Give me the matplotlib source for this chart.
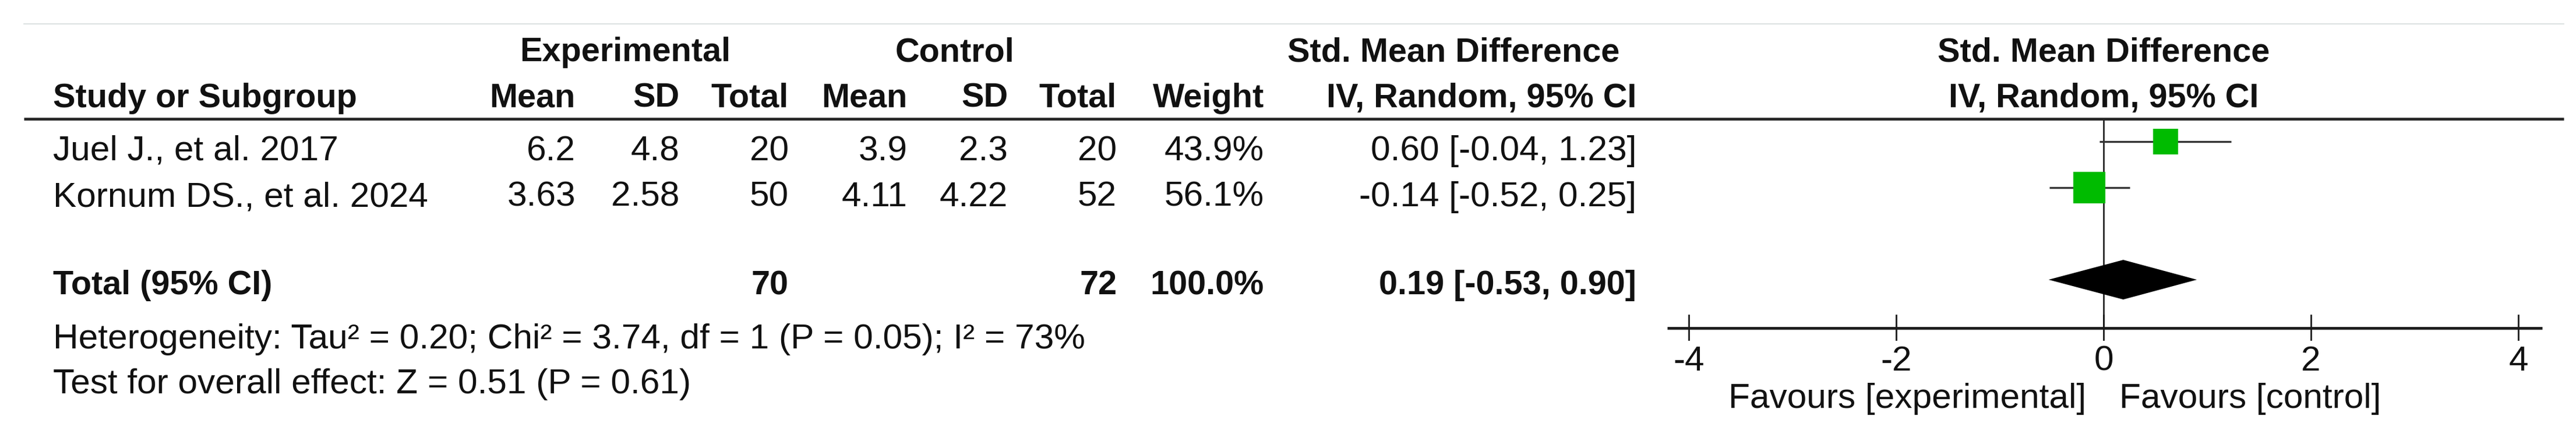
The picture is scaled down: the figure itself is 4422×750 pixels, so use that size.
import matplotlib
matplotlib.use("Agg")
import matplotlib.pyplot as plt
from matplotlib.patches import Rectangle, Polygon

plt.rcParams['font.family'] = ['Liberation Sans', 'DejaVu Sans']

# ---------------- data ----------------
studies = ["Juel J., et al. 2017", "Kornum DS., et al. 2024"]
exp_mean = [6.2, 3.63]
exp_sd = [4.8, 2.58]
exp_n = [20, 50]
ctrl_mean = [3.9, 4.11]
ctrl_sd = [2.3, 4.22]
ctrl_n = [20, 52]
weights = [43.9, 56.1]
smd = [0.60, -0.14]
ci_lo = [-0.04, -0.52]
ci_hi = [1.23, 0.25]

total_exp = 70
total_ctrl = 72
total_weight = 100.0
pooled = 0.19
pooled_lo = -0.53
pooled_hi = 0.90

heterogeneity = "Heterogeneity: Tau\u00b2 = 0.20; Chi\u00b2 = 3.74, df = 1 (P = 0.05); I\u00b2 = 73%"
overall = "Test for overall effect: Z = 0.51 (P = 0.61)"
xticks = [-4, -2, 0, 2, 4]
xtick_labels = ["-4", "-2", "0", "2", "4"]

# ---------------- layout (pixels) ----------------
W, H = 4422, 750
FS = 43.5      # regular text
FSB = 41.5     # bold text
INK = "#111111"
LEFT = 41
RIGHT = 4401

y_group = 105
y_head = 184
y_rows = [275, 354]
y_total = 505
y_het = 598
y_test = 675

col_right = {"em": 988, "esd": 1166, "en": 1354, "cm": 1558, "csd": 1730,
             "cn": 1917, "w": 2170, "ci": 2809}

ZERO_PX = 3611
PX_PER_UNIT = 178
F_LEFT = 2820

fig = plt.figure(figsize=(W / 100, H / 100), dpi=100)
ax = fig.add_axes([0, 0, 1, 1])
ax.set_xlim(0, W)
ax.set_ylim(H, 0)
ax.axis("off")

# rules
ax.plot([LEFT, RIGHT], [41, 41], color="#d4dcdc", lw=1.2)
ax.plot([LEFT, RIGHT], [204, 204], color="#262626", lw=3.4, solid_capstyle="butt")

# group headers
ax.text(1073, y_group, "Experimental", fontsize=FSB, fontweight="bold", ha="center", va="baseline", color=INK)
ax.text(1639, y_group, "Control", fontsize=FSB, fontweight="bold", ha="center", va="baseline", color=INK)
ax.text(2495, y_group, "Std. Mean Difference", fontsize=FSB, fontweight="bold", ha="center", va="baseline", color=INK)

# column headers
ax.text(91, y_head, "Study or Subgroup", fontsize=FSB, fontweight="bold", ha="left", va="baseline", color=INK)
heads = [("em", "Mean"), ("esd", "SD"), ("en", "Total"), ("cm", "Mean"), ("csd", "SD"),
         ("cn", "Total"), ("w", "Weight"), ("ci", "IV, Random, 95% CI")]
for key, label in heads:
    ax.text(col_right[key], y_head, label, fontsize=FSB, fontweight="bold", ha="right", va="baseline", color=INK)

# study rows
for i, name in enumerate(studies):
    y = y_rows[i]
    ax.text(91, y, name, fontsize=FS, ha="left", va="baseline", color=INK)
    vals = [("em", str(exp_mean[i])), ("esd", str(exp_sd[i])), ("en", str(exp_n[i])),
            ("cm", str(ctrl_mean[i])), ("csd", str(ctrl_sd[i])), ("cn", str(ctrl_n[i])),
            ("w", f"{weights[i]:.1f}%"), ("ci", f"{smd[i]:.2f} [{ci_lo[i]:.2f}, {ci_hi[i]:.2f}]")]
    for key, txt in vals:
        ax.text(col_right[key], y, txt, fontsize=FS, ha="right", va="baseline", color=INK)

# total row
ax.text(91, y_total, "Total (95% CI)", fontsize=FSB, fontweight="bold", ha="left", va="baseline", color=INK)
for key, txt in [("en", str(total_exp)), ("cn", str(total_ctrl)), ("w", f"{total_weight:.1f}%"),
                 ("ci", f"{pooled:.2f} [{pooled_lo:.2f}, {pooled_hi:.2f}]")]:
    ax.text(col_right[key], y_total, txt, fontsize=FSB, fontweight="bold", ha="right", va="baseline", color=INK)

ax.text(91, y_het, heterogeneity, fontsize=FS, ha="left", va="baseline", color=INK)
ax.text(91, y_test, overall, fontsize=FS, ha="left", va="baseline", color=INK)

# ---------------- forest panel ----------------
fax = fig.add_axes([F_LEFT / W, 0, (W - F_LEFT) / W, 1])
fax.set_xlim((F_LEFT - ZERO_PX) / PX_PER_UNIT, (W - ZERO_PX) / PX_PER_UNIT)
fax.set_ylim(H, 0)
fax.axis("off")
fax.patch.set_alpha(0)

fax.text(0, y_group, "Std. Mean Difference", fontsize=FSB, fontweight="bold", ha="center", va="baseline", color=INK)
fax.text(0, y_head, "IV, Random, 95% CI", fontsize=FSB, fontweight="bold", ha="center", va="baseline", color=INK)

y_axis = 563
fax.plot([0, 0], [206, y_axis], color="#262626", lw=2.0)

for i in range(len(studies)):
    y = y_rows[i] - 32
    fax.plot([ci_lo[i], ci_hi[i]], [y, y], color="#333333", lw=2.4, solid_capstyle="butt")
    side = weights[i] * 0.98
    fax.add_patch(Rectangle((smd[i] - side / 2 / PX_PER_UNIT, y - side / 2), side / PX_PER_UNIT, side,
                            facecolor="#00bb00", edgecolor="none", zorder=3))

yd = y_total - 25
fax.add_patch(Polygon([(pooled_lo, yd), (pooled, yd - 34), (pooled_hi, yd), (pooled, yd + 34)],
                      closed=True, facecolor="black", edgecolor="none", zorder=3))

# axis
fax.plot([xticks[0] - 0.21, xticks[-1] + 0.23], [y_axis, y_axis], color="#1a1a1a", lw=3.4, solid_capstyle="butt")
for t, lab in zip(xticks, xtick_labels):
    fax.plot([t, t], [y_axis - 22, y_axis + 20], color="#1a1a1a", lw=2.0)
    fax.text(t, 636, lab, fontsize=FS, ha="center", va="baseline", color=INK)

fax.text(-0.17, 700, "Favours [experimental]", fontsize=FS, ha="right", va="baseline", color=INK)
fax.text(0.15, 700, "Favours [control]", fontsize=FS, ha="left", va="baseline", color=INK)

fig.savefig("out.png", dpi=100, facecolor="white")
